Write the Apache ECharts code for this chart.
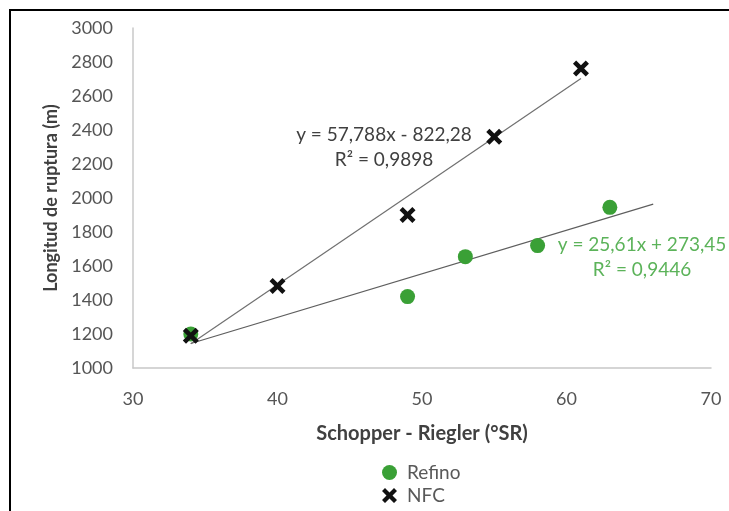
<!DOCTYPE html>
<html>
<head>
<meta charset="utf-8">
<style>
  html, body { margin: 0; padding: 0; background: #fff; }
  #chart { width: 729px; height: 511px; }
</style>
<script src="https://cdn.jsdelivr.net/npm/echarts@6/dist/echarts.min.js"></script>
</head>
<body>
<div id="chart"></div>
<script>
// Schopper-Riegler freeness (°SR) vs breaking length (m)
const refinoX = [34, 49, 53, 58, 63];
const refinoY = [1200, 1420, 1655, 1720, 1945];
const nfcX = [34, 40, 49, 55, 61];
const nfcY = [1190, 1482, 1900, 2360, 2762];

// Linear fits (slope, intercept) and the x span each trend line covers
const nfcFit = { slope: 57.788, intercept: -822.28, r2: '0,9898', from: 34, to: 61 };
const refinoFit = { slope: 25.61, intercept: 273.45, r2: '0,9446', from: 34, to: 66 };

const xTicks = [30, 40, 50, 60, 70];
const yTicks = [1000, 1200, 1400, 1600, 1800, 2000, 2200, 2400, 2600, 2800, 3000];

const FONT = 'Lato';
const GREEN = '#3aa036';
const CROSS = 'path://M0,20 L20,0 L50,30 L80,0 L100,20 L70,50 L100,80 L80,100 L50,70 L20,100 L0,80 L30,50 Z';

function fitLine(f) {
  return [f.from, f.to].map(x => [x, f.slope * x + f.intercept]);
}
function pairs(xs, ys) { return xs.map((x, i) => [x, ys[i]]); }

const legendText = { fontFamily: FONT, fontSize: 19, color: '#595959', padding: [0, 0, 0, 5] };

const chart = echarts.init(document.getElementById('chart'));
chart.setOption({
  animation: false,
  backgroundColor: '#fff',
  textStyle: { fontFamily: FONT },
  grid: { left: 133, right: 18, top: 28, bottom: 143 },
  xAxis: {
    type: 'value',
    min: xTicks[0], max: xTicks[xTicks.length - 1], interval: 10,
    name: 'Schopper - Riegler (°SR)',
    nameLocation: 'middle', nameGap: 56,
    nameTextStyle: { fontFamily: FONT, fontWeight: 'bold', fontSize: 20, color: '#404040' },
    axisLine: { show: true, lineStyle: { color: '#c8c8c8', width: 1.5 } },
    axisTick: { show: false },
    splitLine: { show: false },
    axisLabel: { fontFamily: FONT, fontSize: 18, color: '#555', margin: 22 }
  },
  yAxis: {
    type: 'value',
    min: yTicks[0], max: yTicks[yTicks.length - 1], interval: 200,
    name: 'Longitud de ruptura (m)',
    nameLocation: 'middle', nameGap: 73, nameRotate: 90,
    nameTextStyle: { fontFamily: FONT, fontWeight: 'bold', fontSize: 18, color: '#404040' },
    axisLine: { show: true, lineStyle: { color: '#c8c8c8', width: 1.5 } },
    axisTick: { show: false },
    splitLine: { show: false },
    axisLabel: { fontFamily: FONT, fontSize: 18, color: '#555', margin: 20, formatter: v => String(v) }
  },
  legend: [
    { data: ['Refino'], left: 377, top: 458, itemWidth: 15, itemHeight: 15, itemGap: 10, textStyle: legendText },
    { data: ['NFC'], left: 377, top: 481, itemWidth: 15, itemHeight: 15, itemGap: 10, textStyle: legendText }
  ],
  series: [
    {
      name: 'Refino trend', type: 'line', data: fitLine(refinoFit),
      symbol: 'none', silent: true, z: 1,
      lineStyle: { color: '#5e5e5e', width: 1.2 }
    },
    {
      name: 'NFC trend', type: 'line', data: fitLine(nfcFit),
      symbol: 'none', silent: true, z: 1,
      lineStyle: { color: '#707070', width: 1.2 }
    },
    {
      name: 'Refino', type: 'scatter', data: pairs(refinoX, refinoY),
      symbol: 'circle', symbolSize: 15, z: 3,
      itemStyle: { color: GREEN, opacity: 1 }
    },
    {
      name: 'NFC', type: 'scatter', data: pairs(nfcX, nfcY),
      symbol: CROSS, symbolSize: 16, z: 4,
      itemStyle: { color: '#111', opacity: 1 }
    }
  ]
});

// Trend-line equations, placed next to their lines, plus the frame edges
const eqStyle = { fontFamily: FONT, fontSize: 19, textAlign: 'center', textVerticalAlign: 'middle' };
chart.setOption({
  graphic: [
    { type: 'line', shape: { x1: 9, y1: 10, x2: 729, y2: 10 }, style: { stroke: '#000', lineWidth: 2 } },
    { type: 'line', shape: { x1: 10, y1: 10, x2: 10, y2: 511 }, style: { stroke: '#000', lineWidth: 2 } },
    { type: 'text', x: 384, y: 135, style: Object.assign({ text: 'y = 57,788x - 822,28', fill: '#404040' }, eqStyle) },
    { type: 'text', x: 384, y: 160, style: Object.assign({ text: 'R² = ' + nfcFit.r2, fill: '#404040' }, eqStyle) },
    { type: 'text', x: 642, y: 245, style: Object.assign({ text: 'y = 25,61x + 273,45', fill: '#5cb35a' }, eqStyle) },
    { type: 'text', x: 642, y: 270, style: Object.assign({ text: 'R² = ' + refinoFit.r2, fill: '#5cb35a' }, eqStyle) }
  ]
});
</script>
</body>
</html>
